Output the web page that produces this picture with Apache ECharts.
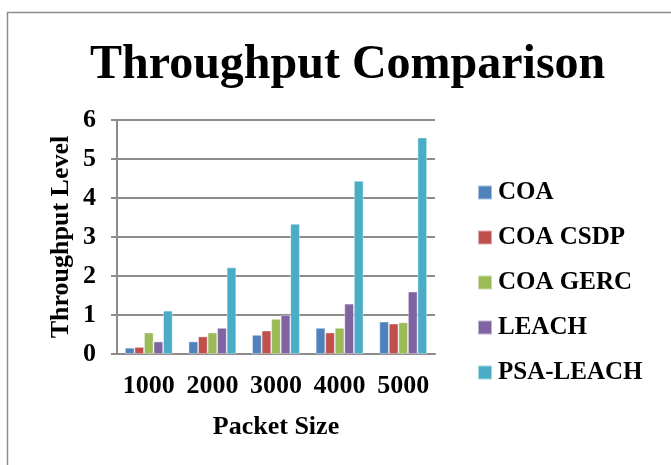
<!DOCTYPE html>
<html><head><meta charset="utf-8">
<script src="https://cdn.jsdelivr.net/npm/echarts@6/dist/echarts.min.js"></script>
<style>html,body{margin:0;padding:0;background:#fff}#c{width:671px;height:465px}</style>
</head><body><div id="c"></div>
<script>
const categories = ['1000','2000','3000','4000','5000'];
const seriesNames = ['COA','COA CSDP','COA GERC','LEACH','PSA-LEACH'];
const coa = [0.16, 0.32, 0.49, 0.67, 0.83];
const coaCsdp = [0.18, 0.45, 0.60, 0.55, 0.78];
const coaGerc = [0.55, 0.55, 0.90, 0.67, 0.81];
const leach = [0.32, 0.67, 1.00, 1.29, 1.60];
const psaLeach = [1.11, 2.22, 3.34, 4.44, 5.55];
const colors = ['#4F81BD','#C0504D','#9BBB59','#8064A2','#4BACC6'];
const allData = [coa, coaCsdp, coaGerc, leach, psaLeach];
const font = '"Liberation Serif","Times New Roman",serif';

const chart = echarts.init(document.getElementById('c'));
chart.setOption({
  animation: false,
  color: colors,
  title: {text:'Throughput Comparison', left:85, top:37,
    textStyle:{fontFamily:font, fontSize:48, fontWeight:'bold', color:'#000'}},
  graphic: [{type:'rect', shape:{x:7.5,y:12.5,width:700,height:500}, style:{fill:'none', stroke:'#8c8c8c', lineWidth:1.5}}],
  legend: {orient:'vertical', left:472, top:175, itemWidth:14, itemHeight:14, itemGap:20,
    icon:'rect', data: seriesNames,
    textStyle:{fontFamily:font, fontSize:25, fontWeight:'bold', color:'#000', padding:[0,0,0,1]}},
  grid: {left:117, top:120, width:318, height:234, containLabel:false},
  xAxis: {type:'category', data:categories, name:'Packet Size', nameLocation:'middle', nameGap:60,
    nameTextStyle:{fontFamily:font, fontSize:26, fontWeight:'bold', color:'#000'},
    axisLine:{lineStyle:{color:'#8c8c8c', width:2}}, axisTick:{show:false},
    axisLabel:{interval:0, hideOverlap:false, fontFamily:font, fontSize:26, fontWeight:'bold', color:'#000', margin:19}},
  yAxis: {type:'value', min:0, max:6, interval:1, name:'Throughput Level', nameLocation:'middle', nameGap:43,
    nameTextStyle:{fontFamily:font, fontSize:26, fontWeight:'bold', color:'#000'},
    axisLine:{show:true, lineStyle:{color:'#8c8c8c', width:2}},
    axisTick:{show:true, length:6, lineStyle:{color:'#8c8c8c', width:2}},
    splitLine:{lineStyle:{color:'#8c8c8c', width:2}},
    axisLabel:{fontFamily:font, fontSize:26, fontWeight:'bold', color:'#000', margin:21}},
  series: seriesNames.map((n,i)=>({name:n, type:'bar', data:allData[i], barGap:'0%', barCategoryGap:'25%',
    itemStyle:{borderColor:'rgba(255,255,255,0.5)', borderWidth:0.8}}))
});
</script></body></html>
